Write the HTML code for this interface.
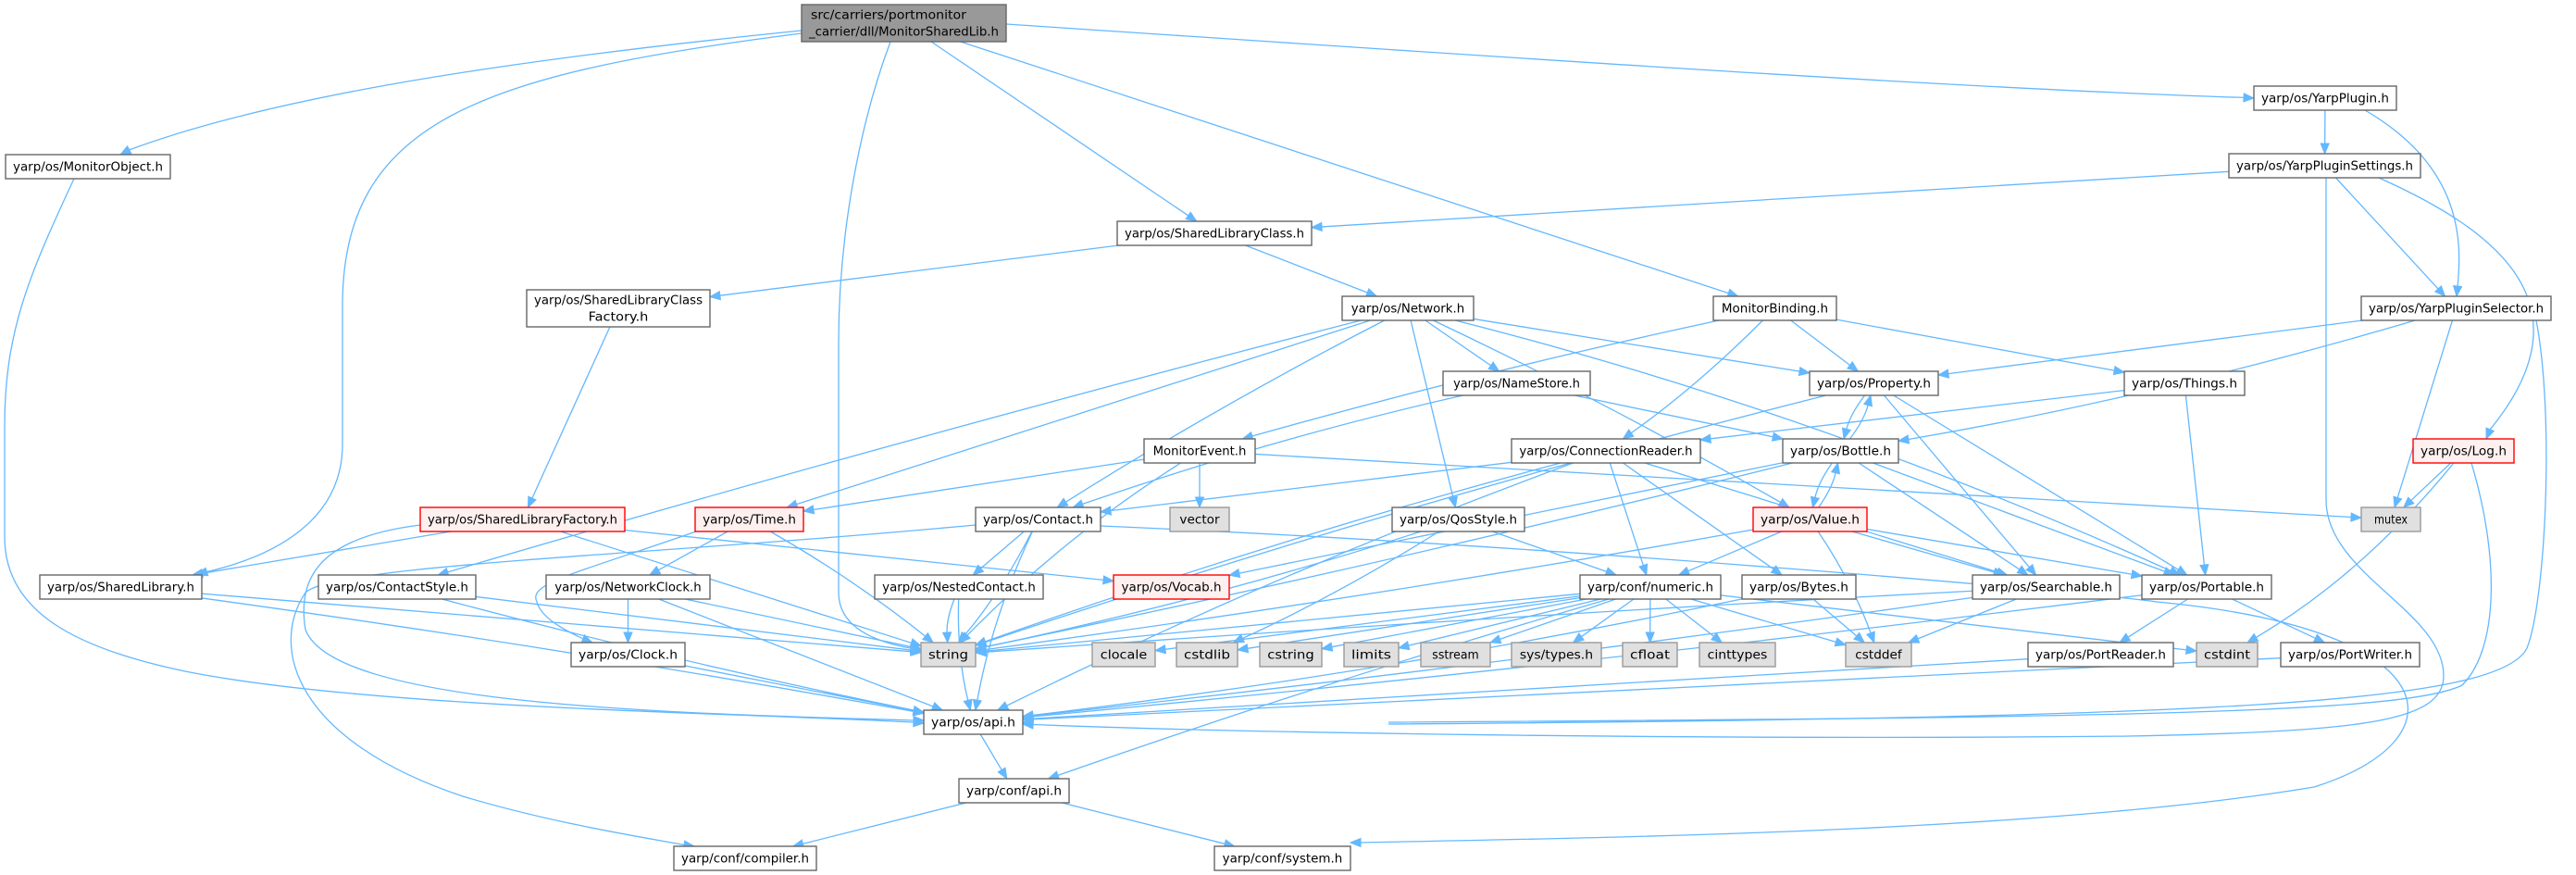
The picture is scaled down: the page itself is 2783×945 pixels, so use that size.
<!DOCTYPE html>
<html><head><meta charset="utf-8"><style>
html,body{margin:0;padding:0;background:#fff;}
svg{display:block;}
text{font-family:"DejaVu Sans","Liberation Sans",sans-serif;font-size:13px;fill:#000;}
</style></head><body>
<svg id="g" width="2783" height="945" viewBox="0 0 2783 945" xmlns="http://www.w3.org/2000/svg"></svg>
<script>
var N={
main:[866,5,221,40,"src/carriers/portmonitor|_carrier/dll/MonitorSharedLib.h","m"],
MonitorObject:[6,167,178,26,"yarp/os/MonitorObject.h"],
SLCF:[569,313,198,40,"yarp/os/SharedLibraryClass|Factory.h"],
SLF:[454,548,221,26,"yarp/os/SharedLibraryFactory.h","r"],
Time:[751,548,117,26,"yarp/os/Time.h","r"],
SharedLibrary:[43,621,175,26,"yarp/os/SharedLibrary.h"],
ContactStyle:[344,621,170,26,"yarp/os/ContactStyle.h"],
NetworkClock:[590,621,177,26,"yarp/os/NetworkClock.h"],
NestedContact:[945,621,182,26,"yarp/os/NestedContact.h"],
Clock:[617,694,123,26,"yarp/os/Clock.h"],
string:[995,694,59,26,"string","g"],
api:[998,767,107,26,"yarp/os/api.h"],
confapi:[1036,841,119,26,"yarp/conf/api.h"],
compiler:[728,914,154,26,"yarp/conf/compiler.h"],
SLC:[1207,239,210,26,"yarp/os/SharedLibraryClass.h"],
Network:[1450,320,142,26,"yarp/os/Network.h"],
MonitorBinding:[1851,320,133,26,"MonitorBinding.h"],
NameStore:[1559,401,159,26,"yarp/os/NameStore.h"],
Property:[1955,401,139,26,"yarp/os/Property.h"],
MonitorEvent:[1236,474,120,26,"MonitorEvent.h"],
ConnReader:[1633,474,204,26,"yarp/os/ConnectionReader.h"],
Bottle:[1926,474,125,26,"yarp/os/Bottle.h"],
Contact:[1054,548,135,26,"yarp/os/Contact.h"],
vector:[1264,548,64,26,"vector","g"],
QosStyle:[1504,548,143,26,"yarp/os/QosStyle.h"],
Value:[1894,548,123,26,"yarp/os/Value.h","r"],
Vocab:[1203,621,125,26,"yarp/os/Vocab.h","r"],
numeric:[1707,621,152,26,"yarp/conf/numeric.h"],
Bytes:[1882,621,123,26,"yarp/os/Bytes.h"],
clocale:[1180,694,68,26,"clocale","g"],
cstdlib:[1271,694,66,26,"cstdlib","g"],
cstring:[1361,694,67,26,"cstring","g"],
limits:[1452,694,59,26,"limits","g"],
sstream:[1535,694,75,26,"sstream","g"],
systypes:[1633,694,97,26,"sys/types.h","g"],
cfloat:[1753,694,59,26,"cfloat","g"],
cinttypes:[1836,694,82,26,"cinttypes","g"],
cstddef:[1994,694,71,26,"cstddef","g"],
system:[1312,914,147,26,"yarp/conf/system.h"],
YarpPlugin:[2435,93,154,26,"yarp/os/YarpPlugin.h"],
YPSettings:[2408,166,207,26,"yarp/os/YarpPluginSettings.h"],
YPSelector:[2551,320,205,26,"yarp/os/YarpPluginSelector.h"],
Things:[2295,401,130,26,"yarp/os/Things.h"],
Log:[2607,474,109,26,"yarp/os/Log.h","r"],
mutex:[2551,548,64,26,"mutex","g"],
Searchable:[2131,621,159,26,"yarp/os/Searchable.h"],
Portable:[2314,621,140,26,"yarp/os/Portable.h"],
PortReader:[2191,694,157,26,"yarp/os/PortReader.h"],
cstdint:[2373,694,66,26,"cstdint","g"],
PortWriter:[2464,694,150,26,"yarp/os/PortWriter.h"]
};
var C="#63b8ff",out=[];
function ctr(n){var a=N[n];return[a[0]+a[2]/2,a[1]+a[3]/2];}
function clip(n,p){var a=N[n],c=ctr(n),dx=p[0]-c[0],dy=p[1]-c[1];var tx=dx?(a[2]/2)/Math.abs(dx):1e9,ty=dy?(a[3]/2)/Math.abs(dy):1e9;var t=Math.min(tx,ty);return[c[0]+dx*t,c[1]+dy*t];}
function arrow(p,q){var dx=q[0]-p[0],dy=q[1]-p[1],l=Math.hypot(dx,dy)||1;dx/=l;dy/=l;var L=11,W=4.5;var b=[q[0]-dx*L,q[1]-dy*L];
out.push('<polygon fill="'+C+'" stroke="'+C+'" points="'+q[0]+','+q[1]+' '+(b[0]-dy*W)+','+(b[1]+dx*W)+' '+(b[0]+dy*W)+','+(b[1]-dx*W)+'"/>');return b;}
function E(s,t,bend){var cs=ctr(s),ct=ctr(t);var m=[(cs[0]+ct[0])/2,(cs[1]+ct[1])/2];var dx=ct[0]-cs[0],dy=ct[1]-cs[1],l=Math.hypot(dx,dy);bend=bend||0;var cp=[m[0]-dy/l*bend,m[1]+dx/l*bend];
var p=clip(s,cp),q=clip(t,cp);var b=arrow(cp,q);
out.push('<path fill="none" stroke="'+C+'" stroke-width="1.3" d="M'+p[0]+','+p[1]+' Q'+cp[0]+','+cp[1]+' '+b[0]+','+b[1]+'"/>');}
function CP(d,px,py,qx,qy){var b=arrow([px,py],[qx,qy]);out.push('<path fill="none" stroke="'+C+'" stroke-width="1.3" d="'+d+' '+b[0]+','+b[1]+'"/>');}
CP("M866,33 C500,70 280,110",200,130,130,167);
CP("M866,36 C520,80 370,130 370,330 L370,480 C370,560 300,600",260,605,213,621);
CP("M962,45 C930,130 906,250 906,370 L906,640 C906,680 950,694",960,696,995,702);
CP("M80,193 C30,300 5,360 5,460 L5,580 C5,660 80,700 200,725 C400,765 800,770",960,778,998,781);
CP("M2513,192 L2513,540 C2513,620 2640,660 2640,730 C2640,780 2550,790 2300,795 C1800,800 1300,790",1150,784,1105,782);
CP("M2740,346 C2760,450 2750,650 2730,700 C2700,760 2400,775 1500,782",1150,782,1105,781);
CP("M2670,500 C2700,600 2700,700 2660,740 C2600,770 2300,775 1500,780",1150,780,1105,780);
CP("M2555,119 C2660,180 2660,260",2656,300,2654,320);
CP("M2570,192 C2700,250 2800,330",2700,440,2686,474);
CP("M1054,567 C700,600 360,610 330,640 C290,700 320,800 500,860 C600,890 700,905",720,910,750,914);
CP("M454,567 C350,580 320,620 330,680 C360,760 700,770",960,778,998,778);
CP("M755,573 C620,620 570,630 580,650 C585,670 620,685",630,690,640,694);
CP("M1189,568 C1700,590 2260,640 2330,650 C2650,680 2660,800 2500,850 C2200,900 1700,905",1490,910,1459,910);
CP("M1087,26 C1600,60 2100,95",2400,104,2435,106);
var L=[["main","SLC"],["main","MonitorBinding"],["YarpPlugin","YPSettings"],["YPSettings","SLC"],["YPSettings","YPSelector"],
["SLC","SLCF"],["SLC","Network"],["SLCF","SLF"],["SLF","SharedLibrary"],["SLF","string"],["SLF","Vocab"],
["Network","Contact",10],["Network","ContactStyle",10],["Network","Time"],["Network","NameStore"],["Network","QosStyle"],["Network","Property"],["Network","Value",-10],["Network","Portable",-40],
["Time","NetworkClock"],["Time","string",-10],["MonitorBinding","MonitorEvent",10],["MonitorBinding","ConnReader",-10],["MonitorBinding","Property"],["MonitorBinding","Things"],
["YPSelector","Property"],["YPSelector","Bottle",-20],["YPSelector","mutex"],["NameStore","Contact",15],["NameStore","Bottle"],
["Property","string",20],["Property","Bottle",8],["Bottle","Property",8],["Property","Searchable"],["Property","Portable"],["Things","ConnReader"],["Things","Portable"],
["MonitorEvent","Time"],["MonitorEvent","vector"],["MonitorEvent","mutex"],["MonitorEvent","string",20],
["ConnReader","Contact"],["ConnReader","numeric"],["ConnReader","Bytes"],["ConnReader","Searchable"],["ConnReader","api",20],["ConnReader","string",15],
["Bottle","Value",8],["Value","Bottle",8],["Bottle","Searchable"],["Bottle","Portable"],["Bottle","Vocab"],["Bottle","string",-10],
["Value","numeric"],["Value","Searchable"],["Value","Portable"],["Value","cstddef",-10],["Value","string",-10],
["Log","mutex"],["Log","cstdint",-30],["Contact","NestedContact"],["Contact","string",-10],["Contact","api",15],
["ContactStyle","string"],["ContactStyle","api",10],["NetworkClock","Clock"],["NetworkClock","string"],["NetworkClock","api"],
["NestedContact","string",8],["NestedContact","api",10],["Clock","api"],["SharedLibrary","string"],["SharedLibrary","api",-10],
["QosStyle","numeric"],["QosStyle","string",-15],["QosStyle","cstdlib",-10],
["numeric","string"],["numeric","clocale"],["numeric","cstdlib"],["numeric","cstring"],["numeric","limits"],["numeric","sstream"],["numeric","systypes"],["numeric","cfloat"],["numeric","cinttypes"],["numeric","cstddef"],["numeric","cstdint"],["numeric","confapi",10],
["Bytes","cstddef"],["Bytes","api",-20],["Searchable","cstddef"],["Searchable","api",-10],["Searchable","string",5],
["Portable","PortReader"],["Portable","PortWriter"],["Portable","api",-10],["PortReader","api"],["PortWriter","api"],
["api","confapi"],["confapi","compiler"],["confapi","system"]];
L.forEach(function(e){E(e[0],e[1],e[2]);});
for(var k in N){var a=N[k],f="#fff",s="#666";if(a[5]=="g"){f="#e0e0e0";s="#999";}if(a[5]=="r"){f="#fff0f0";s="#f00";}if(a[5]=="m"){f="#999";s="#666";}
out.push('<rect x="'+a[0]+'" y="'+a[1]+'" width="'+a[2]+'" height="'+a[3]+'" fill="'+f+'" stroke="'+s+'" stroke-width="1.4"/>');
var ls=a[4].split("|");ls.forEach(function(t,i){var y=a[1]+a[3]/2+4.5+(ls.length==2?(i==0?-9:9):0);var tw=Math.min(a[2]-16,t.length*7.2);
if(ls.length==2&&i==0&&k=="main"){out.push('<text x="'+(a[0]+10)+'" y="'+y+'" textLength="'+(t.length*7)+'" lengthAdjust="spacingAndGlyphs">'+t+'</text>');}
else out.push('<text x="'+(a[0]+a[2]/2)+'" y="'+y+'" text-anchor="middle" textLength="'+tw+'" lengthAdjust="spacingAndGlyphs">'+t+'</text>');});}
document.getElementById("g").innerHTML=out.join("");
</script>
</body></html>
